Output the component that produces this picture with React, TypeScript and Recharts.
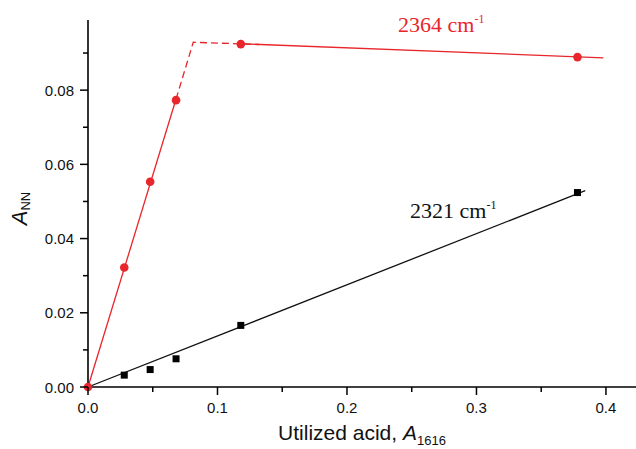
import React from "react";
import {
  ComposedChart,
  Line,
  Scatter,
  XAxis,
  YAxis,
  Label,
} from "recharts";

const RED = "#e8262b";

// measured points
const band2364 = [
  { x: 0, y: 0 },
  { x: 0.028, y: 0.0322 },
  { x: 0.048, y: 0.0553 },
  { x: 0.068, y: 0.0773 },
  { x: 0.118, y: 0.0924 },
  { x: 0.378, y: 0.0889 },
];
const band2321 = [
  { x: 0.028, y: 0.0032 },
  { x: 0.048, y: 0.0047 },
  { x: 0.068, y: 0.0076 },
  { x: 0.118, y: 0.0166 },
  { x: 0.378, y: 0.0524 },
];

// fitted lines (end points)
const fitRise = [
  { x: 0, y: 0 },
  { x: 0.068, y: 0.0776 },
];
const fitRiseDashed = [
  { x: 0.068, y: 0.0776 },
  { x: 0.0813, y: 0.0929 },
  { x: 0.132, y: 0.0923 },
];
const fitPlateau = [
  { x: 0.118, y: 0.0925 },
  { x: 0.398, y: 0.0887 },
];
const fit2321 = [
  { x: 0, y: 0 },
  { x: 0.384, y: 0.0529 },
];

const xTicks = [0, 0.05, 0.1, 0.15, 0.2, 0.25, 0.3, 0.35, 0.4];
const yTicks = [0, 0.01, 0.02, 0.03, 0.04, 0.05, 0.06, 0.07, 0.08, 0.09];

const SANS = "'Liberation Sans', Arial, sans-serif";
const SERIF = "'Liberation Serif', 'Times New Roman', serif";

const XTick = (props: any) => {
  const { x, y, payload } = props;
  const v = payload.value;
  const major = Math.round(v * 20) % 2 === 0;
  return (
    <g>
      <line x1={x} x2={x} y1={y} y2={y + (major ? 8 : 5)} stroke="#000" strokeWidth={1.5} />
      {major && (
        <text x={x} y={y + 26} textAnchor="middle" fontSize={15} fontFamily={SANS} fill="#111">
          {v.toFixed(1)}
        </text>
      )}
    </g>
  );
};

const YTick = (props: any) => {
  const { x, y, payload } = props;
  const v = payload.value;
  const major = Math.round(v * 100) % 2 === 0;
  return (
    <g>
      <line x1={x - (major ? 8 : 5)} x2={x} y1={y} y2={y} stroke="#000" strokeWidth={1.5} />
      {major && (
        <text x={x - 14} y={y + 5.5} textAnchor="end" fontSize={15} fontFamily={SANS} fill="#111">
          {v.toFixed(2)}
        </text>
      )}
    </g>
  );
};

const XTitle = (props: any) => {
  const vb = props.viewBox;
  return (
    <text x={vb.x + vb.width / 2} y={vb.y + 53} textAnchor="middle" fontSize={21} fontFamily={SANS} fill="#111">
      Utilized acid, <tspan fontStyle="italic">A</tspan>
      <tspan fontSize={13} dy={5}>1616</tspan>
    </text>
  );
};

const YTitle = (props: any) => {
  const vb = props.viewBox;
  const cx = 27;
  const cy = vb.y + vb.height / 2 + 5;
  return (
    <text
      x={cx}
      y={cy}
      transform={`rotate(-90, ${cx}, ${cy})`}
      textAnchor="middle"
      fontSize={22}
      fontFamily={SANS}
      fill="#111"
    >
      <tspan fontStyle="italic">A</tspan>
      <tspan fontSize={13} dy={3}>NN</tspan>
    </text>
  );
};

const RedDot = (p: any) => <circle cx={p.cx} cy={p.cy} r={4.3} fill={RED} />;
const BlackSquare = (p: any) => (
  <rect x={p.cx - 3.5} y={p.cy - 3.5} width={7} height={7} fill="#000" />
);

export default function App() {
  return (
    <div style={{ position: "absolute", left: 0, top: 0, width: 636, height: 449, background: "#fff" }}>
      <ComposedChart
        width={636}
        height={449}
        margin={{ top: 20, right: 0, left: 0, bottom: 0 }}
      >
        <XAxis
          type="number"
          dataKey="x"
          domain={[0, 0.4232]}
          ticks={xTicks}
          interval={0}
          tickSize={0}
          tickMargin={0}
          tick={<XTick />}
          height={62}
          axisLine={{ stroke: "#000", strokeWidth: 1.6 }}
        >
          <Label content={<XTitle />} />
        </XAxis>
        <YAxis
          type="number"
          dataKey="y"
          domain={[0, 0.0989]}
          ticks={yTicks}
          interval={0}
          tickSize={0}
          tickMargin={0}
          tick={<YTick />}
          width={88}
          axisLine={{ stroke: "#000", strokeWidth: 1.6 }}
        >
          <Label content={<YTitle />} />
        </YAxis>
        <Line data={fit2321} dataKey="y" stroke="#111" strokeWidth={1.3} dot={false} activeDot={false} isAnimationActive={false} />
        <Line data={fitRise} dataKey="y" stroke={RED} strokeWidth={1.3} dot={false} activeDot={false} isAnimationActive={false} />
        <Line data={fitRiseDashed} dataKey="y" stroke={RED} strokeWidth={1.3} strokeDasharray="7 4" dot={false} activeDot={false} isAnimationActive={false} />
        <Line data={fitPlateau} dataKey="y" stroke={RED} strokeWidth={1.3} dot={false} activeDot={false} isAnimationActive={false} />
        <Scatter data={band2321} dataKey="y" shape={<BlackSquare />} isAnimationActive={false} />
        <Scatter data={band2364} dataKey="y" shape={<RedDot />} isAnimationActive={false} />
      </ComposedChart>
      <svg width={636} height={449} style={{ position: "absolute", left: 0, top: 0, pointerEvents: "none" }}>
        <text x={398} y={32} fontSize={22} fontFamily={SERIF} fill={RED}>
          2364 cm<tspan fontSize={12} dy={-9}>-1</tspan>
        </text>
        <text x={410} y={218} fontSize={22} fontFamily={SERIF} fill="#111">
          2321 cm<tspan fontSize={12} dy={-9}>-1</tspan>
        </text>
      </svg>
    </div>
  );
}
